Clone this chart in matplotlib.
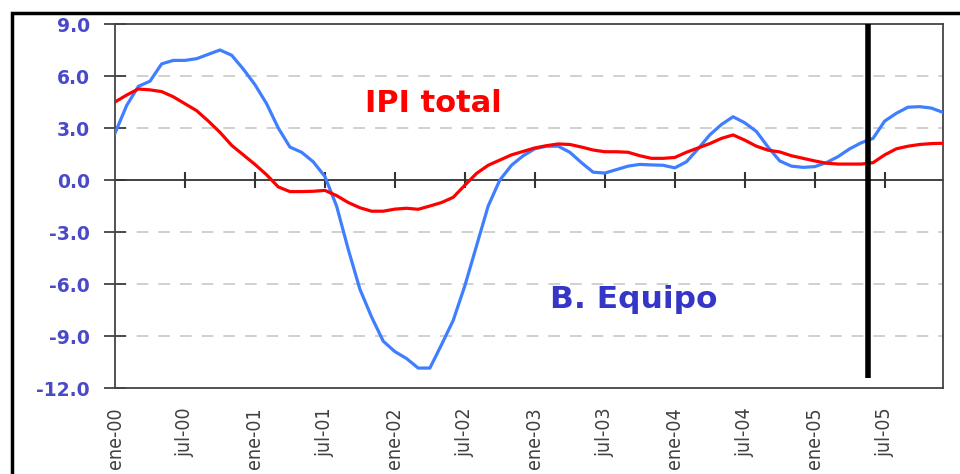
import matplotlib
matplotlib.use('Agg')
import matplotlib.pyplot as plt
from matplotlib.patches import Rectangle
from matplotlib import font_manager

# meses: ene-00 ... dic-05
meses = ['ene', 'feb', 'mar', 'abr', 'may', 'jun', 'jul', 'ago', 'sep', 'oct', 'nov', 'dic']
anios = ['00', '01', '02', '03', '04', '05']
etiquetas = [m + '-' + a for a in anios for m in meses]

# B. Equipo (azul)
equipo = [2.7, 4.3, 5.4, 5.7, 6.7, 6.9, 6.9, 7.0, 7.25, 7.5, 7.2, 6.4,
          5.5, 4.4, 3.0, 1.9, 1.6, 1.05, 0.2, -1.5, -4.0, -6.3, -7.9, -9.3,
          -9.9, -10.3, -10.85, -10.85, -9.5, -8.1, -6.1, -3.8, -1.5, 0.0, 0.85, 1.4,
          1.8, 1.95, 1.95, 1.6, 1.0, 0.45, 0.4, 0.6, 0.8, 0.9, 0.87, 0.85,
          0.7, 1.05, 1.8, 2.6, 3.2, 3.65, 3.3, 2.8, 1.9, 1.1, 0.8, 0.73,
          0.77, 1.0, 1.35, 1.8, 2.15, 2.4, 3.4, 3.85, 4.2, 4.23, 4.15, 3.9]

# IPI total (rojo)
ipi = [4.5, 4.9, 5.25, 5.2, 5.1, 4.8, 4.4, 4.0, 3.4, 2.75, 2.0, 1.45,
       0.9, 0.3, -0.4, -0.67, -0.67, -0.65, -0.6, -0.9, -1.3, -1.6, -1.8, -1.8,
       -1.68, -1.63, -1.69, -1.5, -1.3, -1.0, -0.3, 0.38, 0.85, 1.15, 1.45, 1.65,
       1.85, 1.98, 2.08, 2.05, 1.9, 1.73, 1.63, 1.63, 1.6, 1.4, 1.25, 1.25,
       1.3, 1.6, 1.85, 2.1, 2.4, 2.6, 2.3, 1.95, 1.72, 1.62, 1.4, 1.25,
       1.1, 0.97, 0.92, 0.92, 0.92, 1.0, 1.45, 1.8, 1.95, 2.05, 2.1, 2.12]

y_ticks = [-12, -9, -6, -3, 0, 3, 6, 9]
corte = 64.6  # linea vertical negra

# buscar una fuente estrecha para las fechas
cond = [f for f in font_manager.fontManager.ttflist
        if 'condensed' in str(f.stretch) or 'Narrow' in f.name or 'Condensed' in f.name]
cond = [f for f in cond if 'Bold' not in f.fname and 'Italic' not in f.fname and 'Oblique' not in f.fname]
if cond:
    fp_fecha = font_manager.FontProperties(fname=cond[0].fname, size=14)
else:
    fp_fecha = font_manager.FontProperties(family='DejaVu Sans', size=12.5)

x = list(range(len(etiquetas)))

fig = plt.figure(figsize=(9.6, 4.74), dpi=100)
ax = fig.add_axes([115 / 960, 86 / 474, 828 / 960, 364 / 474])

for v in [-9, -6, -3, 3, 6]:
    ax.axhline(v, color='#c8c8c8', lw=1.2, ls=(0, (7, 6)), zorder=0)

ax.plot(x, equipo, color='#3f7fff', lw=2.3, zorder=3)
ax.plot(x, ipi, color='#ff0000', lw=2.3, zorder=3)
ax.vlines(corte, -11.4, 9, color='black', lw=4, zorder=4)

ax.set_xlim(0, 71)
ax.set_ylim(-12, 9)
ax.set_yticks(y_ticks)
ax.set_yticklabels(['%.1f' % v for v in y_ticks])
ax.tick_params(axis='y', direction='inout', length=16, width=1.2, color='#333333',
               labelcolor='#4a4ac8', labelsize=13.5, pad=10)
for t in ax.get_yticklabels():
    t.set_fontweight('bold')

ax.set_xticks(x[::6])
ax.set_xticklabels(etiquetas[::6], rotation=90, fontproperties=fp_fecha, color='#404040')
ax.tick_params(axis='x', length=0, pad=14)

for s in ax.spines.values():
    s.set_color('#444444')
    s.set_linewidth(1.3)

# eje en el cero con las marcas
sec = ax.secondary_xaxis(12 / 21)
sec.set_xticks(x[6::6])
sec.set_xticklabels([])
sec.tick_params(direction='inout', length=11, width=1.5, color='#333333',
                labelbottom=False, labeltop=False)
for s in sec.spines.values():
    s.set_color('#333333')
    s.set_linewidth(1.3)

ax.text(27.3, 4.4, 'IPI total', color='#ff0000', fontsize=22, fontweight='bold',
        ha='center', va='center')
ax.text(44.5, -6.9, 'B. Equipo', color='#3535c8', fontsize=22.5, fontweight='bold',
        ha='center', va='center')

fig.patches.append(Rectangle((12 / 960, -0.1), 1.2, 0.1 + (474 - 13) / 474,
                             transform=fig.transFigure, fill=False, lw=2.5,
                             edgecolor='black'))

fig.savefig('out.png', dpi=100)
